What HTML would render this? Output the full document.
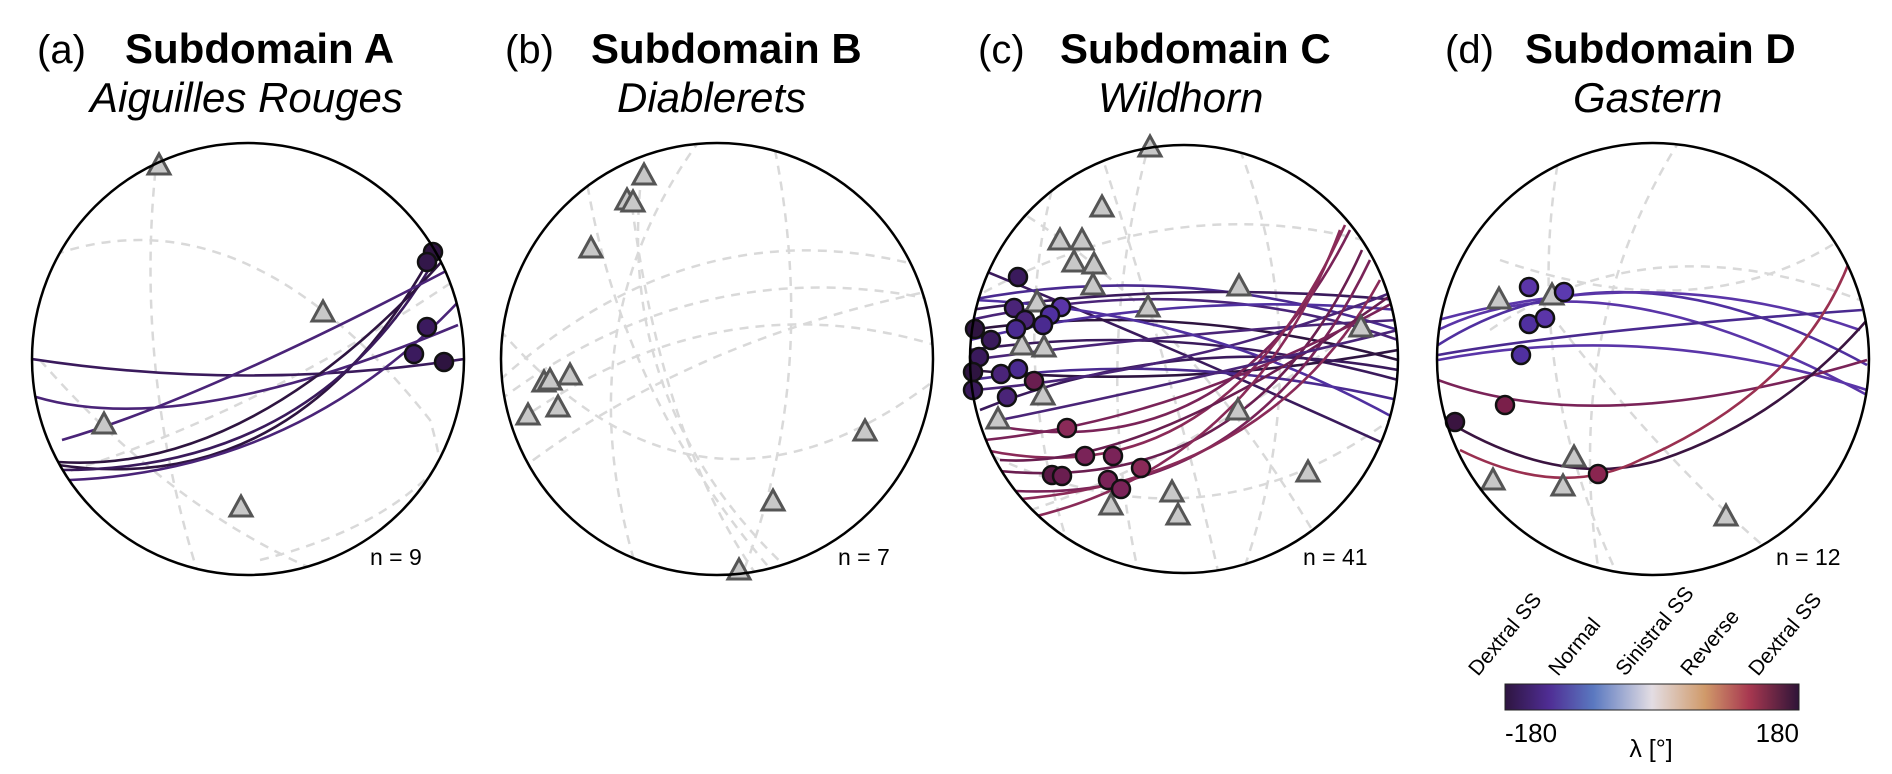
<!DOCTYPE html>
<html><head><meta charset="utf-8"><style>
html,body{margin:0;padding:0;background:#fff;width:1892px;height:774px;overflow:hidden}
svg{display:block}
text{font-family:"Liberation Sans",sans-serif;fill:#000}
.t{font-size:42px;font-weight:bold}
.p{font-size:40px}
.s{font-size:42px;font-style:italic}
.n{font-size:23px}
.g{fill:none;stroke:#d9d9d9;stroke-width:2.5;stroke-dasharray:9 7}
.tri{fill:#c8c8c8;stroke:#555;stroke-width:3}
.pt{stroke:#111;stroke-width:2.5}
.c{fill:none;stroke-width:2.6}
</style></head><body>
<svg width="1892" height="774" viewBox="0 0 1892 774" xmlns="http://www.w3.org/2000/svg">
<defs>
<symbol id="tr" viewBox="-12 -12 24 24" overflow="visible"><polygon points="0,-11 11,9 -11,9" class="tri"/></symbol>
<clipPath id="ca"><circle cx="248" cy="359" r="216"/></clipPath>
<clipPath id="cb"><circle cx="717" cy="359" r="216"/></clipPath>
<clipPath id="cc"><circle cx="1184" cy="359" r="214"/></clipPath>
<clipPath id="cd"><circle cx="1653" cy="359" r="216"/></clipPath>
<linearGradient id="cm" x1="0" x2="1">
<stop offset="0" stop-color="#2e1540"/><stop offset="0.15" stop-color="#4f2d94"/><stop offset="0.3" stop-color="#5a78c0"/><stop offset="0.5" stop-color="#e3dde3"/><stop offset="0.68" stop-color="#d09a6a"/><stop offset="0.83" stop-color="#a83850"/><stop offset="1" stop-color="#2e1438"/>
</linearGradient>
</defs>

<!-- titles -->
<text x="37" y="63" class="p">(a)</text><text x="125" y="63" class="t">Subdomain A</text>
<text x="90" y="112" class="s">Aiguilles Rouges</text>
<text x="505" y="63" class="p">(b)</text><text x="591" y="63" class="t">Subdomain B</text>
<text x="617" y="112" class="s">Diablerets</text>
<text x="978" y="63" class="p">(c)</text><text x="1060" y="63" class="t">Subdomain C</text>
<text x="1098" y="112" class="s">Wildhorn</text>
<text x="1445" y="63" class="p">(d)</text><text x="1525" y="63" class="t">Subdomain D</text>
<text x="1573" y="112" class="s">Gastern</text>

<!-- A -->
<g clip-path="url(#ca)">
<path class="g" d="M159,140 Q130,360 200,580"/>
<path class="g" d="M40,260 Q240,180 430,420 Q460,520 420,580"/>
<path class="g" d="M40,480 Q250,420 470,270"/>
<path class="g" d="M260,560 Q420,520 470,420"/>
<path class="g" d="M40,360 Q180,520 340,580"/>
<path class="c" stroke="#3a1a5c" d="M32,359 Q248,392 464,359"/>
<path class="c" stroke="#4a2478" d="M36,397 Q182,440 458,325"/>
<path class="c" stroke="#2e1440" d="M58,465 Q300,500 436,247"/>
<path class="c" stroke="#3a1a5c" d="M61,470 Q320,470 440,250"/>
<path class="c" stroke="#2e1440" d="M58,462 Q250,475 445,258"/>
<path class="c" stroke="#4a2478" d="M62,440 Q200,400 448,270"/>
<path class="c" stroke="#4a2478" d="M70,480 Q300,470 460,300"/>
</g>
<use href="#tr" x="147" y="153" width="24" height="24"/>
<use href="#tr" x="311" y="300" width="24" height="24"/>
<use href="#tr" x="92" y="412" width="24" height="24"/>
<use href="#tr" x="229" y="495" width="24" height="24"/>
<circle cx="433" cy="252" r="9" fill="#2e1440" class="pt"/>
<circle cx="427" cy="262" r="9" fill="#33174a" class="pt"/>
<circle cx="427" cy="327" r="9" fill="#3b1a5e" class="pt"/>
<circle cx="414" cy="354" r="9" fill="#3b1a5e" class="pt"/>
<circle cx="444" cy="362" r="9" fill="#2e1440" class="pt"/>
<circle cx="248" cy="359" r="216" fill="none" stroke="#000" stroke-width="2.5"/>
<text x="370" y="565" class="n">n = 9</text>

<!-- B -->
<g clip-path="url(#cb)">
<path class="g" d="M700,140 Q560,330 640,580"/>
<path class="g" d="M585,170 Q620,400 780,580"/>
<path class="g" d="M640,190 Q620,420 800,580"/>
<path class="g" d="M630,190 Q660,440 760,580"/>
<path class="g" d="M775,150 Q820,380 740,580"/>
<path class="g" d="M500,380 Q700,200 935,270"/>
<path class="g" d="M500,400 Q700,250 935,300"/>
<path class="g" d="M520,420 Q720,280 935,345"/>
<path class="g" d="M500,330 Q700,560 935,380"/>
<path class="g" d="M520,470 Q690,340 935,290"/>
</g>
<use href="#tr" x="632" y="163" width="24" height="24"/>
<use href="#tr" x="615" y="188" width="24" height="24"/>
<use href="#tr" x="621" y="190" width="24" height="24"/>
<use href="#tr" x="579" y="236" width="24" height="24"/>
<use href="#tr" x="532" y="370" width="24" height="24"/>
<use href="#tr" x="538" y="368" width="24" height="24"/>
<use href="#tr" x="558" y="363" width="24" height="24"/>
<use href="#tr" x="516" y="403" width="24" height="24"/>
<use href="#tr" x="546" y="395" width="24" height="24"/>
<use href="#tr" x="853" y="419" width="24" height="24"/>
<use href="#tr" x="761" y="489" width="24" height="24"/>
<use href="#tr" x="727" y="558" width="24" height="24"/>
<circle cx="717" cy="359" r="216" fill="none" stroke="#000" stroke-width="2.5"/>
<text x="838" y="565" class="n">n = 7</text>

<!-- C -->
<g clip-path="url(#cc)">
<path class="g" d="M1150,140 Q1090,360 1140,580"/>
<path class="g" d="M1060,160 Q1000,360 1080,580"/>
<path class="g" d="M1240,150 Q1320,360 1240,580"/>
<path class="g" d="M970,300 Q1180,180 1398,250"/>
<path class="g" d="M980,450 Q1200,560 1390,420"/>
<path class="g" d="M1000,200 Q1180,300 1330,560"/>
<path class="g" d="M1100,150 Q1180,400 1220,580"/>
<path class="g" d="M1000,520 Q1200,460 1390,300"/>
<path class="c" stroke="#3a1a5c" d="M970,265 Q1180,350 1398,450"/>
<path class="c" stroke="#4a2a90" d="M970,300 Q1180,260 1398,330"/>
<path class="c" stroke="#3a1a5c" d="M970,310 Q1180,280 1398,300"/>
<path class="c" stroke="#4a2478" d="M970,320 Q1200,270 1398,340"/>
<path class="c" stroke="#2e1440" d="M970,330 Q1180,300 1398,360"/>
<path class="c" stroke="#5030a0" d="M970,340 Q1180,290 1398,310"/>
<path class="c" stroke="#3a1a5c" d="M970,350 Q1180,320 1398,380"/>
<path class="c" stroke="#4a2478" d="M970,360 Q1200,330 1398,320"/>
<path class="c" stroke="#2e1440" d="M970,370 Q1180,390 1398,350"/>
<path class="c" stroke="#4a2a90" d="M970,380 Q1180,350 1398,400"/>
<path class="c" stroke="#3a1a5c" d="M980,410 Q1180,330 1398,370"/>
<path class="c" stroke="#4a2478" d="M975,390 Q1200,370 1398,290"/>
<path class="c" stroke="#5030a0" d="M975,300 Q1200,310 1398,420"/>
<path class="c" stroke="#7a2358" d="M990,425 Q1230,470 1350,230"/>
<path class="c" stroke="#8a2a58" d="M985,450 Q1220,500 1345,225"/>
<path class="c" stroke="#6a1e50" d="M990,470 Q1250,500 1362,250"/>
<path class="c" stroke="#7a2358" d="M1000,490 Q1250,510 1370,260"/>
<path class="c" stroke="#8a2a58" d="M1010,500 Q1270,480 1380,280"/>
<path class="c" stroke="#6a1e50" d="M1000,460 Q1150,470 1398,290"/>
<path class="c" stroke="#7a2358" d="M985,440 Q1180,420 1398,300"/>
<path class="c" stroke="#8a2a58" d="M1020,520 Q1250,470 1340,230"/>
<path class="c" stroke="#4a2478" d="M1000,420 Q1150,390 1398,330"/>
</g>
<use href="#tr" x="1138" y="135" width="24" height="24"/>
<use href="#tr" x="1090" y="195" width="24" height="24"/>
<use href="#tr" x="1048" y="228" width="24" height="24"/>
<use href="#tr" x="1070" y="228" width="24" height="24"/>
<use href="#tr" x="1062" y="250" width="24" height="24"/>
<use href="#tr" x="1082" y="252" width="24" height="24"/>
<use href="#tr" x="1081" y="273" width="24" height="24"/>
<use href="#tr" x="1227" y="274" width="24" height="24"/>
<use href="#tr" x="1136" y="295" width="24" height="24"/>
<use href="#tr" x="1025" y="290" width="24" height="24"/>
<use href="#tr" x="1349" y="315" width="24" height="24"/>
<use href="#tr" x="1010" y="333" width="24" height="24"/>
<use href="#tr" x="1032" y="335" width="24" height="24"/>
<use href="#tr" x="1031" y="383" width="24" height="24"/>
<use href="#tr" x="986" y="407" width="24" height="24"/>
<use href="#tr" x="1226" y="398" width="24" height="24"/>
<use href="#tr" x="1296" y="460" width="24" height="24"/>
<use href="#tr" x="1160" y="480" width="24" height="24"/>
<use href="#tr" x="1166" y="503" width="24" height="24"/>
<use href="#tr" x="1099" y="493" width="24" height="24"/>
<g class="pt">
<circle cx="1018" cy="277" r="9" fill="#3a1a5c"/>
<circle cx="1014" cy="308" r="9" fill="#4a2478"/>
<circle cx="1061" cy="307" r="9" fill="#5a35a8"/>
<circle cx="1050" cy="315" r="9" fill="#5030a0"/>
<circle cx="1025" cy="320" r="9" fill="#4a2478"/>
<circle cx="1043" cy="325" r="9" fill="#4a2a90"/>
<circle cx="1016" cy="329" r="9" fill="#4a2a90"/>
<circle cx="975" cy="329" r="9" fill="#2e1440"/>
<circle cx="991" cy="340" r="9" fill="#3a1a5c"/>
<circle cx="979" cy="357" r="9" fill="#3a1a5c"/>
<circle cx="973" cy="372" r="9" fill="#2e1440"/>
<circle cx="1001" cy="374" r="9" fill="#4a2478"/>
<circle cx="1018" cy="369" r="9" fill="#4a2a90"/>
<circle cx="1034" cy="381" r="9" fill="#6a1e50"/>
<circle cx="1007" cy="397" r="9" fill="#4a2478"/>
<circle cx="973" cy="390" r="9" fill="#3a1a5c"/>
<circle cx="1067" cy="428" r="9" fill="#8a2a58"/>
<circle cx="1085" cy="456" r="9" fill="#7a2358"/>
<circle cx="1113" cy="456" r="9" fill="#7a2358"/>
<circle cx="1141" cy="468" r="9" fill="#8a2a58"/>
<circle cx="1052" cy="475" r="9" fill="#5a1845"/>
<circle cx="1062" cy="476" r="9" fill="#6a1e50"/>
<circle cx="1108" cy="480" r="9" fill="#7a2358"/>
<circle cx="1121" cy="489" r="9" fill="#7a2358"/>
</g>
<circle cx="1184" cy="359" r="214" fill="none" stroke="#000" stroke-width="2.5"/>
<text x="1303" y="565" class="n">n = 41</text>

<!-- D -->
<g clip-path="url(#cd)">
<path class="g" d="M1560,150 Q1520,370 1620,580"/>
<path class="g" d="M1680,140 Q1560,330 1600,580"/>
<path class="g" d="M1490,330 Q1650,220 1860,300"/>
<path class="g" d="M1540,300 Q1660,460 1780,560"/>
<path class="g" d="M1500,260 Q1700,330 1840,240"/>
<path class="c" stroke="#5a35a8" d="M1438,330 Q1600,250 1867,395"/>
<path class="c" stroke="#5030a0" d="M1438,345 Q1620,230 1867,365"/>
<path class="c" stroke="#5a35a8" d="M1438,320 Q1660,260 1860,330"/>
<path class="c" stroke="#5a35a8" d="M1438,360 Q1650,320 1867,390"/>
<path class="c" stroke="#4a2a90" d="M1438,355 Q1580,330 1862,310"/>
<path class="c" stroke="#7a2358" d="M1438,380 Q1600,440 1867,360"/>
<path class="c" stroke="#3a1440" d="M1445,420 Q1560,490 1660,460 Q1780,420 1867,320"/>
<path class="c" stroke="#9a3050" d="M1460,450 Q1560,500 1640,460 Q1800,390 1850,260"/>
</g>
<use href="#tr" x="1487" y="287" width="24" height="24"/>
<use href="#tr" x="1540" y="283" width="24" height="24"/>
<use href="#tr" x="1562" y="445" width="24" height="24"/>
<use href="#tr" x="1551" y="474" width="24" height="24"/>
<use href="#tr" x="1481" y="468" width="24" height="24"/>
<use href="#tr" x="1714" y="504" width="24" height="24"/>
<g class="pt">
<circle cx="1529" cy="287" r="9" fill="#5b35a8"/>
<circle cx="1564" cy="292" r="9" fill="#5b3ab0"/>
<circle cx="1529" cy="324" r="9" fill="#5030a0"/>
<circle cx="1545" cy="318" r="9" fill="#5b35a8"/>
<circle cx="1521" cy="355" r="9" fill="#5030a0"/>
<circle cx="1505" cy="405" r="9" fill="#7a1f4a"/>
<circle cx="1455" cy="422" r="9" fill="#3a1440"/>
<circle cx="1598" cy="474" r="9" fill="#8a2550"/>
</g>
<circle cx="1653" cy="359" r="216" fill="none" stroke="#000" stroke-width="2.5"/>
<text x="1776" y="565" class="n">n = 12</text>

<!-- colorbar -->
<rect x="1505" y="684" width="294" height="26" fill="url(#cm)" stroke="#222" stroke-width="1"/>
<g font-size="21">
<text transform="translate(1478,677) rotate(-50)">Dextral SS</text>
<text transform="translate(1558,677) rotate(-50)">Normal</text>
<text transform="translate(1625,677) rotate(-50)">Sinistral SS</text>
<text transform="translate(1690,677) rotate(-50)">Reverse</text>
<text transform="translate(1758,677) rotate(-50)">Dextral SS</text>
</g>
<text x="1505" y="742" font-size="26">-180</text>
<text x="1799" y="742" font-size="26" text-anchor="end">180</text>
<text x="1651" y="757" font-size="25" text-anchor="middle">λ [°]</text>
</svg>
</body></html>
